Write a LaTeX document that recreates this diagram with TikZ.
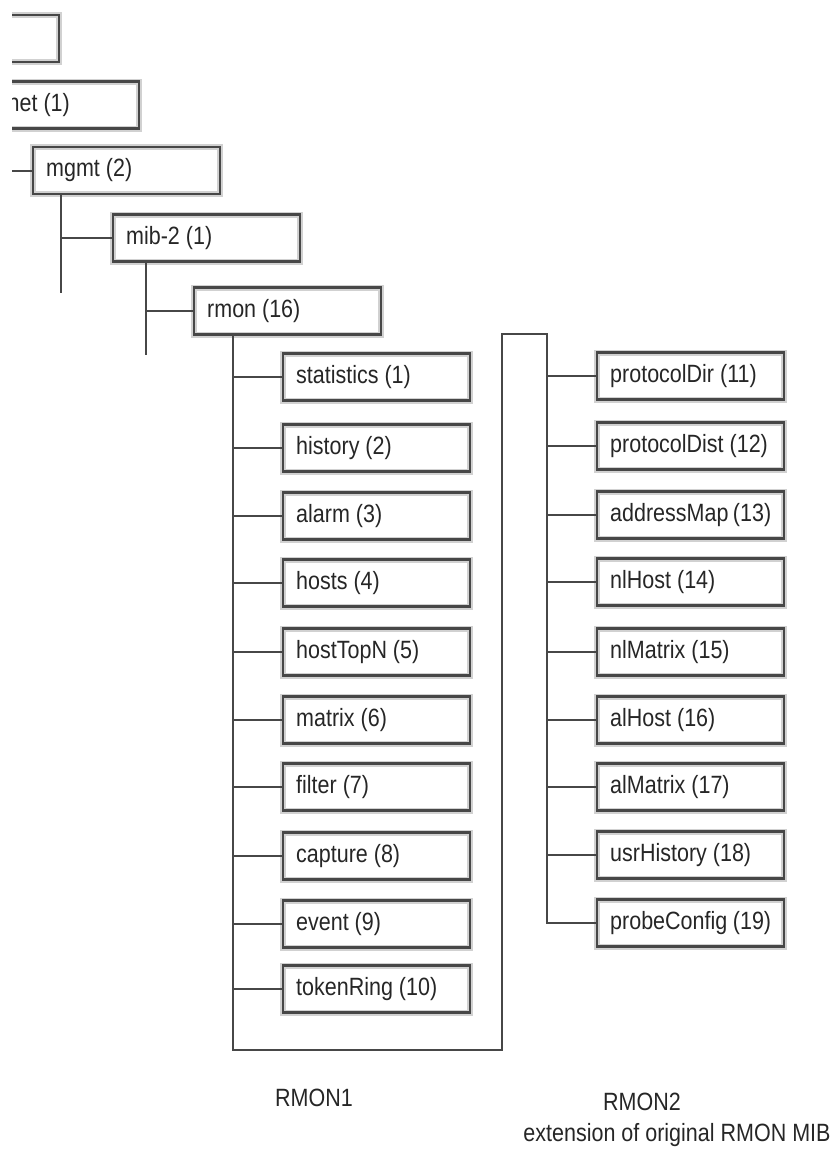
\documentclass[tikz,border=0pt]{standalone}
\usepackage{fontspec}
\setmainfont{Liberation Sans}[FakeStretch=0.86]
\newcommand\nsp{\spaceskip=0pt\xspaceskip=0pt\relax}
\begin{document}
\begin{tikzpicture}[x=1pt,y=-1pt,
  lbl/.style={font=\fontsize{25}{30}\selectfont, text=black!85, inner sep=0pt},
  mibbox/.style={lbl, draw=black!72, line width=2.4pt,
    preaction={draw=black!18, line width=6pt},
    minimum height=47pt, text width=161pt, inner xsep=13pt, inner ysep=0pt,
    align=left, anchor=west},
  link/.style={draw=black!72, line width=2pt}]
\useasboundingbox (0,0) rectangle (835,1151);
\clip (12,0) rectangle (835,1151);
% upper part of the tree
\node[mibbox, anchor=east] (top) at (60,38.5) {};
\node[mibbox, anchor=east, text width=174pt] (inet) at (140,105) {};
\node[lbl, anchor=east] (inettxt) at (70,105) {net (1)};
\node[mibbox] (mgmt) at (32,170.5) {\nsp mgmt (2)};
\node[mibbox] (mib) at (112,238) {\nsp mib-2 (1)};
\node[mibbox] (rmon) at (193,311) {\nsp rmon (16)};
% RMON1 groups
\node[mibbox] (s1) at (282,377) {\nsp statistics (1)};
\node[mibbox] (s2) at (282,448) {\nsp history (2)};
\node[mibbox] (s3) at (282,516) {\nsp alarm (3)};
\node[mibbox] (s4) at (282,583) {\nsp hosts (4)};
\node[mibbox] (s5) at (282,652) {\nsp hostTopN (5)};
\node[mibbox] (s6) at (282,720) {\nsp matrix (6)};
\node[mibbox] (s7) at (282,787) {\nsp filter (7)};
\node[mibbox] (s8) at (282,856) {\nsp capture (8)};
\node[mibbox] (s9) at (282,924) {\nsp event (9)};
\node[mibbox] (s10) at (282,989) {\nsp tokenRing (10)};
% RMON2 groups
\node[mibbox] (r11) at (596,376) {\nsp protocolDir (11)};
\node[mibbox] (r12) at (596,446) {\nsp protocolDist (12)};
\node[mibbox] (r13) at (596,515) {\nsp addressMap (13)};
\node[mibbox] (r14) at (596,582) {\nsp nlHost (14)};
\node[mibbox] (r15) at (596,652) {\nsp nlMatrix (15)};
\node[mibbox] (r16) at (596,720) {\nsp alHost (16)};
\node[mibbox] (r17) at (596,787) {\nsp alMatrix (17)};
\node[mibbox] (r18) at (596,855) {\nsp usrHistory (18)};
\node[mibbox] (r19) at (596,923) {\nsp probeConfig (19)};
% labels
\node[lbl] (l1) at (314,1098) {RMON1};
\node[lbl] (l2) at (642,1102) {RMON2};
\node[lbl] (l3) at (677,1135) {extension of original RMON MIB};
% connector corner points
\coordinate (m0) at (0,170.5);
\coordinate (m1) at (61,293);
\coordinate (m2) at (146,355);
\coordinate (t1) at (233,1050);
\coordinate (t2) at (502,1050);
\coordinate (t3) at (502,334);
\coordinate (t4) at (547,334);
% connectors
\draw[link] (m0) -- (mgmt.west);
\draw[link] (mgmt.south -| m1) -- (m1);
\draw[link] (m1 |- mib.west) -- (mib.west);
\draw[link] (mib.south -| m2) -- (m2);
\draw[link] (m2 |- rmon.west) -- (rmon.west);
\draw[link] (rmon.south -| t1) -- (t1) -- (t2) -- (t3) -- (t4) |- (r19.west);
\foreach \n in {s1,s2,s3,s4,s5,s6,s7,s8,s9,s10}
  \draw[link] (t1 |- \n.west) -- (\n.west);
\foreach \n in {r11,r12,r13,r14,r15,r16,r17,r18}
  \draw[link] (t4 |- \n.west) -- (\n.west);
\end{tikzpicture}
\end{document}
